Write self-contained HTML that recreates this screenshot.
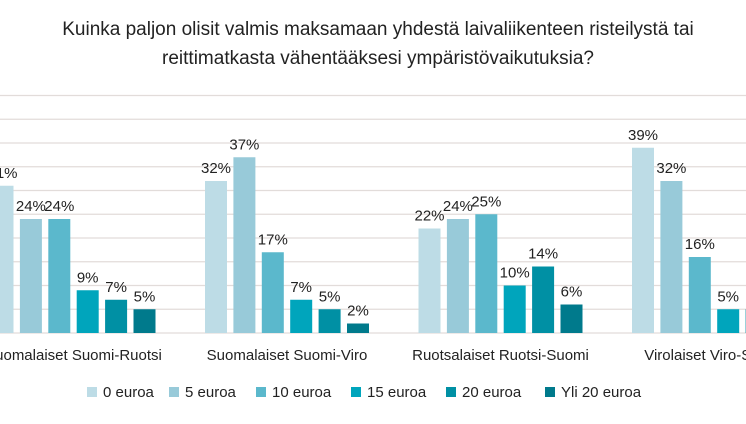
<!DOCTYPE html>
<html><head><meta charset="utf-8"><style>
body{margin:0;background:#fff;width:746px;height:419px;overflow:hidden;font-family:"Liberation Sans",Arial,sans-serif}
</style></head><body>
<svg id="chart" width="746" height="419" xmlns="http://www.w3.org/2000/svg" font-family="Liberation Sans, Arial, sans-serif">
<text x="378" y="35" text-anchor="middle" font-size="19" fill="#222">Kuinka paljon olisit valmis maksamaan yhdestä laivaliikenteen risteilystä tai</text>
<text x="378" y="64" text-anchor="middle" font-size="19" fill="#222">reittimatkasta vähentääksesi ympäristövaikutuksia?</text>
<g id="grid"></g><g id="bars"></g><g id="labels"></g><g id="legend"></g>
</svg>
<script>
const categories=["Suomalaiset Suomi-Ruotsi","Suomalaiset Suomi-Viro","Ruotsalaiset Ruotsi-Suomi","Virolaiset Viro-Suomi"];
const seriesNames=["0 euroa","5 euroa","10 euroa","15 euroa","20 euroa","Yli 20 euroa"];
const s0=[31,32,22,39];
const s1=[24,37,24,32];
const s2=[24,17,25,16];
const s3=[9,7,10,5];
const s4=[7,5,14,5];
const s5=[5,2,6,2];
const series=[s0,s1,s2,s3,s4,s5];
const colors=["#bddce6","#98cad9","#5bb8cc","#00a5bc","#0090a4","#007a8c"];
const NS="http://www.w3.org/2000/svg";
const base=333, pxPer=4.75;
const y=v=>base-v*pxPer;
const groupX=i=>-8.5+i*213.5;
const barX=(g,k)=>groupX(g)+k*28.4;
const bw=22;
function mk(tag,attrs,parent){const e=document.createElementNS(NS,tag);for(const k in attrs)e.setAttribute(k,attrs[k]);document.getElementById(parent).appendChild(e);return e;}
for(let t=0;t<=50;t+=5){
  const l=mk("line",{x1:0,x2:746,y1:y(t),y2:y(t),stroke:"#e2dcda","stroke-width":1.3},"grid");
  
  
}
categories.forEach((c,g)=>{
  series.forEach((s,k)=>{
    const v=s[g];
    const r=mk("rect",{x:barX(g,k),y:y(v),width:bw,height:v*pxPer,fill:colors[k]},"bars");
    
    
    const t=mk("text",{x:barX(g,k)+bw/2,y:y(v)-8,"text-anchor":"middle","font-size":15,fill:"#222"},"labels");
    t.textContent=v+"%";
    
    
  });
  const cl=mk("text",{x:groupX(g)+82,y:360,"text-anchor":"middle","font-size":15,fill:"#222"},"labels");
  cl.textContent=c;
  
  
});
const lx=[87,169,256,351,446,545];
seriesNames.forEach((n,k)=>{
  const r=mk("rect",{x:lx[k],y:387,width:10,height:10,fill:colors[k]},"legend");
  
  
  const t=mk("text",{x:lx[k]+16,y:397,"font-size":15,fill:"#222"},"legend");
  t.textContent=n;
  
  
});
</script>
</body></html>
